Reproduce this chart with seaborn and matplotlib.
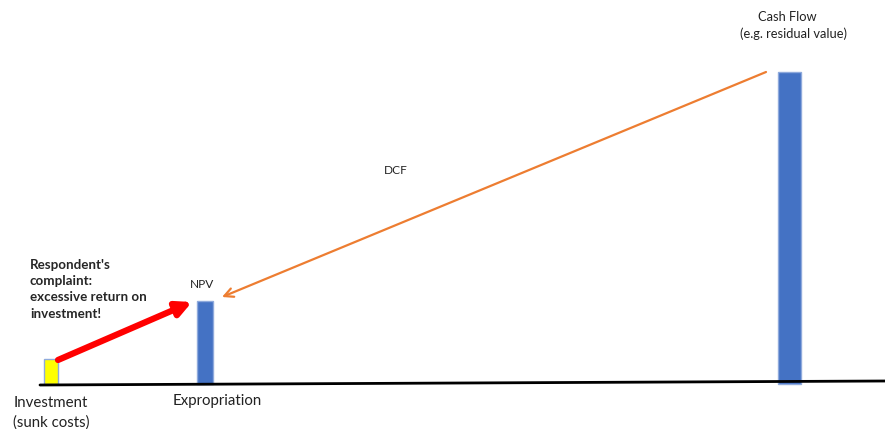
import pandas as pd
import matplotlib.pyplot as plt
import seaborn as sns

# bar positions and heights, in pixel-like units above the baseline
stages = ['Investment', 'NPV', 'Cash Flow']
positions = [51, 205, 789.5]
heights = [25, 83, 312]
widths = [14, 16, 23]
colors = ['#FFFF00', '#4472C4', '#4472C4']
edges = ['#8FAADC', '#8FAADC', '#8FAADC']

sns.set_theme(style='white')
plt.rcParams['font.family'] = ['Lato', 'DejaVu Sans']

fig = plt.figure(figsize=(8.85, 4.29), dpi=100)
ax = fig.add_axes([0, 0, 1, 1])

for i in range(len(stages)):
    df = pd.DataFrame({'x': [positions[i]], 'y': [heights[i]]})
    sns.barplot(data=df, x='x', y='y', native_scale=True, width=widths[i],
                color=colors[i], edgecolor=edges[i], linewidth=1, saturation=1,
                ax=ax, zorder=2)

# baseline
ax.plot([40, 885], [-1, 3], color='black', lw=2, zorder=3)

# arrows
ax.annotate('', xy=(192, 82), xytext=(58, 24),
            arrowprops=dict(arrowstyle='-|>', color='#FF0000', lw=4.5,
                            mutation_scale=22, shrinkA=0, shrinkB=0))
ax.annotate('', xy=(222, 87), xytext=(766, 312),
            arrowprops=dict(arrowstyle='->', color='#ED7D31', lw=1.6,
                            mutation_scale=16, shrinkA=0, shrinkB=0))

# labels
ax.text(30, 125, "Respondent's\ncomplaint:\nexcessive return on\ninvestment!",
        fontsize=9.6, fontweight='bold', ha='left', va='top', linespacing=1.42)
ax.text(202, 99, 'NPV', fontsize=8.6, ha='center', va='center', color='#222222')
ax.text(396, 214, 'DCF', fontsize=8.6, ha='center', va='center', color='#222222')
ax.text(787, 367, 'Cash Flow', fontsize=9.3, ha='center', va='center', color='#222222')
ax.text(794, 350, '(e.g. residual value)', fontsize=9.3, ha='center', va='center', color='#222222')
ax.text(51, -29, 'Investment\n(sunk costs)', fontsize=10.8, ha='center', va='center',
        linespacing=1.5, color='#222222')
ax.text(217, -17, 'Expropriation', fontsize=10.8, ha='center', va='center', color='#222222')

ax.set_xlim(0, 885)
ax.set_ylim(-45, 384)
ax.axis('off')
if ax.get_legend():
    ax.get_legend().remove()

fig.savefig('out.png', dpi=100)
